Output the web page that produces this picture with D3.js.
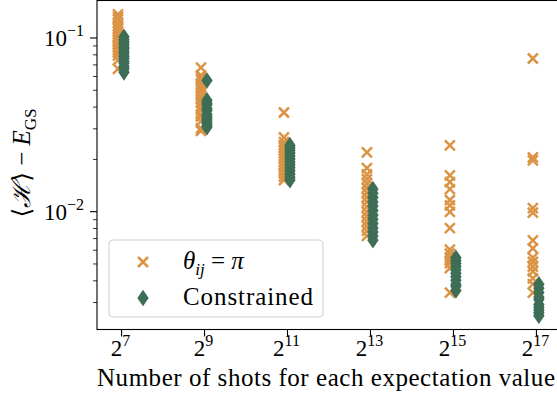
<!DOCTYPE html>
<html>
<head>
<meta charset="utf-8">
<script src="https://cdn.jsdelivr.net/npm/d3@7"></script>
<style>
body { margin: 0; background: #fff; }
text { font-family: "Liberation Serif", "DejaVu Serif", serif; fill: #000; }
</style>
</head>
<body>
<div id="chart"></div>
<script>
// shots per expectation value (powers of two) and their exponents
var shotExps = [7, 9, 11, 13, 15, 17];
var shots = [128, 512, 2048, 8192, 32768, 131072];

// energy error for theta_ij = pi, one list per shot count
var piErrors = [
  [0.136, 0.131, 0.127, 0.121, 0.116, 0.112, 0.108, 0.104, 0.1, 0.097, 0.094, 0.091, 0.088, 0.085, 0.082, 0.079, 0.074, 0.066],
  [0.067, 0.0605, 0.059, 0.057, 0.054, 0.052, 0.05, 0.048, 0.046, 0.044, 0.042, 0.04, 0.038, 0.036, 0.035, 0.033, 0.030, 0.029],
  [0.037, 0.0266, 0.025, 0.024, 0.0232, 0.0224, 0.0215, 0.0207, 0.02, 0.0193, 0.0186, 0.018, 0.0172, 0.0165, 0.0158, 0.0151],
  [0.0218, 0.0177, 0.0163, 0.0153, 0.0144, 0.0136, 0.0128, 0.012, 0.0113, 0.0106, 0.0099, 0.0093, 0.0087, 0.0082, 0.0077, 0.0072],
  [0.0239, 0.0161, 0.0147, 0.0134, 0.0116, 0.0108, 0.0099, 0.008, 0.006, 0.0057, 0.0054, 0.0052, 0.005, 0.0047, 0.0034],
  [0.0757, 0.0204, 0.0196, 0.0104, 0.0098, 0.0068, 0.0061, 0.0054, 0.0051, 0.0048, 0.0045, 0.0041, 0.0038, 0.0034]
];

// energy error for the constrained ansatz
var constrainedErrors = [
  [0.101, 0.097, 0.094, 0.091, 0.088, 0.086, 0.083, 0.081, 0.078, 0.076, 0.073, 0.071, 0.068, 0.066, 0.063],
  [0.0566, 0.0435, 0.042, 0.041, 0.039, 0.038, 0.036, 0.035, 0.034, 0.033, 0.032, 0.031, 0.0304],
  [0.024, 0.0232, 0.0224, 0.0216, 0.0208, 0.02, 0.0192, 0.0185, 0.0178, 0.0171, 0.0164, 0.0157, 0.0151],
  [0.0134, 0.0127, 0.012, 0.0113, 0.0107, 0.0101, 0.0095, 0.009, 0.0085, 0.008, 0.0076, 0.0072, 0.0068],
  [0.0054, 0.0052, 0.005, 0.0048, 0.0046, 0.0044, 0.0042, 0.004, 0.0038, 0.0037, 0.0035],
  [0.0038, 0.0036, 0.0034, 0.0032, 0.0031, 0.0029, 0.0028, 0.0027, 0.0026, 0.0025]
];

// y ticks
var yMajor = [0.1, 0.01];
var yMajorExp = ["\u22121", "\u22122"];
var yMinor = [0.003, 0.004, 0.005, 0.006, 0.007, 0.008, 0.009, 0.02, 0.03, 0.04, 0.05, 0.06, 0.07, 0.08, 0.09];

var orange = "#db9446";
var green = "#3e6e56";

var svgWidth = 557;
var svgHeight = 402;
var margin = {top: 0.5, left: 97, right: -3, bottom: 72.5};
var width = svgWidth - margin.left - margin.right;
var height = svgHeight - margin.top - margin.bottom;

var svg = d3.select("#chart")
  .append("svg")
  .attr("width", svgWidth)
  .attr("height", svgHeight);

var chartGroup = svg.append("g")
  .attr("transform", `translate(${margin.left}, ${margin.top})`);

// log scales, x in base 2
var xScale = d3.scaleLog().base(2)
  .domain([Math.pow(2, 6.42), Math.pow(2, 17.58)])
  .range([0, width]);
var yScale = d3.scaleLog()
  .domain([0.002084, 0.1633])
  .range([height, 0]);

// flatten into points, small offset left/right of each tick like the original
var piPoints = [];
var conPoints = [];
shots.forEach(function(n, i) {
  piErrors[i].forEach(function(v) { piPoints.push({n: n * 0.95, v: v}); });
  constrainedErrors[i].forEach(function(v) { conPoints.push({n: n * 1.05, v: v}); });
});

var xPath = "M-5,-5L5,5M-5,5L5,-5";
var dPath = "M0,-8.3L5.7,0L0,8.3L-5.7,0Z";

chartGroup.append("g").selectAll("path")
  .data(piPoints)
  .enter()
  .append("path")
  .attr("d", xPath)
  .attr("transform", d => `translate(${xScale(d.n)},${yScale(d.v)})`)
  .attr("stroke", orange)
  .attr("stroke-width", 2.5)
  .attr("fill", "none");

chartGroup.append("g").selectAll("path")
  .data(conPoints)
  .enter()
  .append("path")
  .attr("d", dPath)
  .attr("transform", d => `translate(${xScale(d.n)},${yScale(d.v)})`)
  .attr("fill", green);

// axes
var xAxis = d3.axisBottom(xScale)
  .tickValues(shots)
  .tickSize(7)
  .tickFormat("");
var xg = chartGroup.append("g")
  .attr("transform", `translate(0, ${height})`)
  .call(xAxis);
xg.select(".domain").remove();
xg.selectAll(".tick line").attr("stroke", "#000").attr("stroke-width", 1.1);
xg.selectAll(".tick").data(shotExps)
  .append("text")
  .attr("x", -1)
  .attr("y", 26)
  .attr("text-anchor", "middle")
  .attr("font-size", 23)
  .each(function(e) {
    var t = d3.select(this);
    t.append("tspan").text("2");
    t.append("tspan").attr("font-size", 16).attr("dy", -10).text(e);
  });

var yAxisMinor = d3.axisLeft(yScale)
  .tickValues(yMinor)
  .tickSize(4)
  .tickFormat("");
var ygm = chartGroup.append("g").call(yAxisMinor);
ygm.select(".domain").remove();
ygm.selectAll(".tick line").attr("stroke", "#000").attr("stroke-width", 0.8);

var yAxis = d3.axisLeft(yScale)
  .tickValues(yMajor)
  .tickSize(7)
  .tickFormat("");
var yg = chartGroup.append("g").call(yAxis);
yg.select(".domain").remove();
yg.selectAll(".tick line").attr("stroke", "#000").attr("stroke-width", 1.1);
yg.selectAll(".tick").data(yMajorExp)
  .append("text")
  .attr("x", -13)
  .attr("y", 8)
  .attr("text-anchor", "end")
  .attr("font-size", 23)
  .each(function(e) {
    var t = d3.select(this);
    t.append("tspan").text("10");
    t.append("tspan").attr("font-size", 16).attr("dy", -10).text(e);
  });

// frame (spines)
chartGroup.append("rect")
  .attr("x", 0)
  .attr("y", 0)
  .attr("width", width)
  .attr("height", height)
  .attr("fill", "none")
  .attr("stroke", "#000")
  .attr("stroke-width", 1.1);

// legend
var legend = chartGroup.append("g")
  .attr("transform", "translate(12, 239.5)");
legend.append("rect")
  .attr("width", 214)
  .attr("height", 77)
  .attr("rx", 4)
  .attr("fill", "#fff")
  .attr("fill-opacity", 0.8)
  .attr("stroke", "#d0d0d0")
  .attr("stroke-width", 1.1);
legend.append("path")
  .attr("d", xPath)
  .attr("transform", "translate(34, 22)")
  .attr("stroke", orange)
  .attr("stroke-width", 2.5)
  .attr("fill", "none");
legend.append("path")
  .attr("d", dPath)
  .attr("transform", "translate(34, 58)")
  .attr("fill", green);
var l1 = legend.append("text")
  .attr("x", 74)
  .attr("y", 29)
  .attr("font-size", 25);
l1.append("tspan").attr("font-style", "italic").text("\u03b8");
l1.append("tspan").attr("font-style", "italic").attr("font-size", 17).attr("dy", 6).text("ij");
l1.append("tspan").attr("dy", -6).text(" = ");
l1.append("tspan").attr("font-style", "italic").text("\u03c0");
legend.append("text")
  .attr("x", 74)
  .attr("y", 65)
  .attr("font-size", 25)
  .attr("textLength", 130)
  .attr("lengthAdjust", "spacing")
  .text("Constrained");

// axis labels
svg.append("text")
  .attr("x", 97)
  .attr("y", 386)
  .attr("font-size", 25)
  .attr("textLength", 458)
  .attr("lengthAdjust", "spacing")
  .text("Number of shots for each expectation value");

var yl = svg.append("text")
  .attr("transform", "translate(30, 163) rotate(-90)")
  .attr("text-anchor", "middle")
  .attr("font-size", 25);
yl.append("tspan").text("\u27e8");
yl.append("tspan").attr("font-style", "italic").text("\u210b");
yl.append("tspan").text("\u27e9 \u2212 ");
yl.append("tspan").attr("font-style", "italic").text("E");
yl.append("tspan").attr("font-size", 17).attr("dy", 6).text("GS");
</script>
</body>
</html>
